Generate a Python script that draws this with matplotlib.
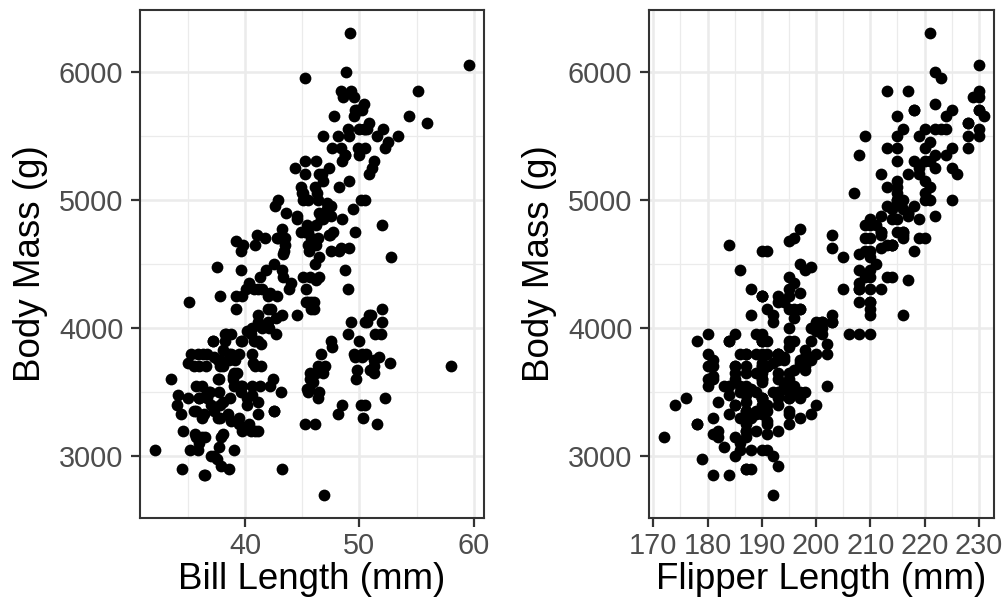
import matplotlib.pyplot as plt
from matplotlib.ticker import MultipleLocator

adelie_bill = [39.1, 39.5, 40.3, 36.7, 39.3, 38.9, 39.2, 34.1, 42.0, 37.8, 37.8, 41.1, 38.6, 36.6, 38.7, 42.5, 34.4, 46.0,
               37.8, 37.7, 35.9, 38.2, 38.8, 35.3, 40.6, 40.5, 37.9, 40.5, 39.5, 37.2, 39.5, 40.9, 36.4, 39.2, 38.8, 42.2,
               37.6, 39.8, 36.5, 40.8, 36.0, 37.0, 39.6, 41.1, 37.5, 36.0, 42.3, 39.6, 40.1, 35.0, 42.0, 34.5, 41.4,
               39.0, 40.6, 36.5, 37.6, 35.7, 41.3, 37.6, 41.1, 36.4, 35.5, 41.1, 35.9, 41.8, 33.5, 39.7, 39.6, 45.8,
               35.5, 42.8, 40.9, 37.2, 36.2, 42.1, 34.6, 42.9, 36.7, 35.1, 37.3, 41.3, 36.3, 36.9, 38.3, 38.9, 35.7, 41.1,
               34.0, 39.6, 36.2, 40.8, 38.1, 40.3, 43.2, 35.0, 41.0, 37.7, 37.8, 37.9, 39.7, 38.6, 38.2, 38.1, 43.2,
               38.1, 45.6, 39.7, 42.2, 39.6, 42.7, 38.6, 37.3, 35.7, 41.1, 36.2, 37.7, 40.2, 41.4, 35.2, 40.6, 38.8, 41.5,
               39.0, 38.5, 43.1, 36.8, 37.5, 38.1, 41.1, 35.6, 40.2, 37.0, 39.7, 40.2, 40.6, 32.1, 40.7, 37.3, 39.0,
               39.2, 36.6, 36.0, 37.8, 36.0, 41.5]
adelie_flipper = [181, 186, 195, 193, 190, 181, 195, 193, 190, 186, 180, 182, 191, 185, 195, 197, 184, 194,
                  174, 180, 189, 185, 180, 187, 183, 187, 172, 180, 178, 178, 188, 184, 195, 196, 190, 180,
                  181, 184, 182, 195, 186, 185, 190, 182, 179, 190, 191, 186, 188, 190, 200, 187, 191,
                  186, 193, 181, 194, 185, 195, 185, 192, 184, 195, 188, 190, 198, 190, 190, 196, 197,
                  190, 195, 191, 184, 187, 195, 189, 196, 187, 193, 191, 194, 190, 189, 189, 190, 202, 205,
                  185, 186, 187, 208, 190, 196, 192, 192, 203, 183, 190, 193, 184, 199, 190, 181, 197,
                  198, 191, 193, 197, 191, 196, 188, 199, 189, 189, 187, 198, 176, 202, 186, 199, 191, 195,
                  191, 190, 197, 193, 199, 187, 190, 191, 200, 185, 193, 193, 187, 188, 190, 192, 185,
                  190, 184, 195, 193, 187, 201]
adelie_mass = [3750, 3800, 3250, 3450, 3650, 3625, 4675, 3475, 4250, 3300, 3700, 3200, 3800, 3700, 3450, 4500, 3325, 4200,
               3400, 3600, 3800, 3950, 3800, 3800, 3550, 3200, 3150, 3950, 3250, 3900, 3300, 3900, 3325, 4150, 3950, 3550,
               3300, 4650, 3150, 3900, 3100, 3000, 4600, 3425, 2975, 3450, 4150, 3500, 4300, 3450, 4050, 2900, 3700,
               3550, 3800, 2850, 3750, 3150, 4400, 3600, 4050, 2850, 3350, 4100, 3050, 4450, 3600, 3900, 3550, 4150,
               3700, 4250, 3700, 3900, 3550, 4000, 3200, 4700, 3800, 4200, 3350, 3550, 3800, 3500, 3950, 3600, 3550, 4300,
               3400, 4450, 3300, 4300, 3700, 4350, 4100, 3725, 4725, 3075, 4250, 2925, 3550, 3750, 3900, 3175, 4775,
               3825, 4600, 3200, 4275, 3900, 4075, 2900, 3775, 3350, 3325, 3150, 3500, 3450, 3875, 3050, 4000, 3275, 4300,
               3050, 3325, 3500, 3500, 4475, 3425, 3900, 3175, 3975, 3400, 4250, 3400, 3475, 3050, 3725, 3000, 3650,
               4250, 3475, 3450, 3750, 3700, 4000]

gentoo_bill = [46.1, 50.0, 48.7, 50.0, 47.6, 46.5, 45.4, 46.7, 43.3, 46.8, 40.9, 49.0, 45.5, 48.4, 45.8, 49.3, 42.0, 49.2,
               46.2, 48.7, 50.2, 45.1, 46.5, 46.3, 42.9, 46.1, 44.5, 47.8, 48.2, 50.0, 47.3, 42.8, 45.1, 59.6,
               49.1, 48.4, 42.6, 44.4, 44.0, 48.7, 42.7, 49.6, 45.3, 49.6, 50.5, 43.6, 45.5, 50.5, 44.9, 45.2, 46.6, 48.5,
               45.1, 50.1, 46.5, 45.0, 43.8, 45.5, 43.2, 50.4, 45.3, 46.2, 45.7, 54.3, 45.8, 49.8, 46.2, 49.5, 43.5, 50.7,
               47.7, 46.4, 48.2, 46.5, 46.4, 48.6, 47.5, 45.2, 45.2,
               49.1, 52.5, 47.4, 50.0, 44.9, 50.8, 43.4, 51.3, 47.5, 52.1, 47.5, 52.2, 45.5, 49.5, 44.5, 50.8, 49.4, 46.9,
               48.4, 51.1, 48.5, 55.9, 47.2, 49.1, 47.3, 46.8, 41.7, 53.4, 43.3, 48.1, 50.5, 43.5, 51.5, 46.2, 55.1,
               44.5, 48.8, 47.2, 46.8, 50.4, 45.2, 49.9]
gentoo_flipper = [211, 230, 210, 218, 215, 210, 211, 219, 209, 215, 214, 216, 214, 213, 210, 217, 210, 221,
                  209, 222, 218, 215, 213, 215, 215, 215, 216, 215, 210, 220, 222, 209, 207, 230,
                  220, 220, 213, 219, 208, 208, 208, 225, 210, 216, 222, 217, 210, 225, 213, 215, 210, 220,
                  210, 225, 217, 220, 208, 220, 208, 224, 208, 221, 214, 231, 219, 230, 214, 229, 220, 223,
                  216, 221, 221, 217, 216, 230, 209, 215, 223,
                  212, 221, 212, 224, 212, 228, 218, 218, 212, 230, 218, 228, 212, 224, 214, 226, 216, 222,
                  203, 225, 219, 228, 215, 228, 216, 215, 210, 219, 208, 209, 216, 213, 230, 217, 230,
                  217, 222, 214, 215, 222, 212, 213]
gentoo_mass = [4500, 5700, 4450, 5700, 5400, 4550, 4800, 5200, 4400, 5150, 4650, 5550, 4650, 5850, 4200, 5850, 4150, 6300,
               4800, 5350, 5700, 5000, 4400, 5050, 5000, 5100, 4100, 5650, 4600, 5550, 5250, 4700, 5050, 6050,
               5150, 5400, 4950, 5250, 4350, 5350, 3950, 5700, 4300, 4750, 5550, 4900, 4200, 5400, 5100, 5300, 4850, 5300,
               4400, 5000, 4900, 5050, 4300, 5000, 4450, 5550, 4200, 5300, 4400, 5650, 4700, 5700, 4650, 5800, 4700, 5550,
               4750, 5000, 5100, 5200, 4700, 5800, 4600, 4750, 5950,
               4625, 5450, 4725, 5350, 4750, 5600, 4600, 5300, 4875, 5550, 4950, 5400, 4750, 5650, 4850, 5200, 4925, 4875,
               4625, 5250, 4850, 5600, 4975, 5500, 4725, 5500, 4700, 5500, 4575, 5500, 5000, 4650, 5500, 4375, 5850,
               4875, 6000, 4925, 4850, 5750, 5200, 5400]

chinstrap_bill = [46.5, 50.0, 51.3, 45.4, 52.7, 46.1, 51.3, 46.0, 51.3, 46.6, 51.7, 47.0, 52.0, 45.9, 50.5, 50.3,
                  58.0, 46.4, 42.4, 48.5, 43.2, 50.6, 52.0,
                  50.5, 49.5, 46.4, 52.8, 40.9, 42.5, 51.0, 49.7, 47.5, 47.6, 52.0, 46.9, 49.0, 46.2, 45.5,
                  50.9, 50.1, 49.0, 51.5, 49.8, 48.1, 51.4, 45.7, 50.7, 42.5, 52.2, 45.2, 49.3, 50.2, 45.6, 51.9, 46.8,
                  45.7, 49.6, 50.8, 50.2]
chinstrap_flipper = [192, 196, 193, 188, 197, 178, 197, 195, 198, 193, 194, 185, 201, 190, 201, 197,
                     181, 190, 181, 191, 187, 193, 197,
                     200, 200, 191, 205, 187, 187, 203, 195, 199, 195, 210, 192, 210, 187, 196,
                     196, 190, 212, 187, 198, 199, 201, 193, 203, 187, 197, 191, 203, 202, 194, 206, 189,
                     195, 193, 210, 198]
chinstrap_mass = [3500, 3900, 3650, 3525, 3725, 3250, 3750, 4150, 3700, 3800, 3775, 3700, 4050, 3575, 4050, 3300,
                  3700, 3450, 3600, 3400, 2900, 3800, 4150,
                  3400, 3800, 3700, 4550, 3200, 3350, 4100, 3600, 3900, 3850, 4800, 2700, 3950, 3650, 3500,
                  3675, 3400, 4300, 3250, 3675, 3325, 3950, 3600, 4050, 3350, 3450, 3250, 4050, 3800, 3525, 3950, 3650,
                  3650, 3775, 4100, 3775]

bill_length = adelie_bill + gentoo_bill + chinstrap_bill
flipper_length = adelie_flipper + gentoo_flipper + chinstrap_flipper
body_mass = adelie_mass + gentoo_mass + chinstrap_mass

plt.rcParams['font.family'] = ['Liberation Sans', 'DejaVu Sans']

fig = plt.figure(figsize=(10.05, 6.09), dpi=100)
ax1 = fig.add_axes([140/1005, 91.3/609, 344/1005, 507.7/609])
ax2 = fig.add_axes([649/1005, 91.3/609, 345/1005, 507.7/609])

panels = [
    (ax1, bill_length, 'Bill Length (mm)', (30.8, 60.9), 10),
    (ax2, flipper_length, 'Flipper Length (mm)', (169.2, 232.8), 10),
]

for ax, x, xlab, xlim, step in panels:
    ax.scatter(x, body_mass, s=72, c='black', linewidths=0, zorder=3)
    ax.set_xlim(*xlim)
    ax.set_ylim(2520, 6480)
    ax.xaxis.set_major_locator(MultipleLocator(step))
    ax.xaxis.set_minor_locator(MultipleLocator(step / 2))
    ax.yaxis.set_major_locator(MultipleLocator(1000))
    ax.yaxis.set_minor_locator(MultipleLocator(500))
    ax.grid(which='major', color='#EBEBEB', lw=1.8)
    ax.grid(which='minor', color='#EBEBEB', lw=0.9)
    ax.set_axisbelow(True)
    for sp in ax.spines.values():
        sp.set_color('#333333')
        sp.set_linewidth(1.5)
    ax.tick_params(which='major', length=6.5, width=1.6, color='#333333',
                   labelsize=20.8, labelcolor='#4D4D4D')
    ax.tick_params(axis='x', pad=3.5)
    ax.tick_params(axis='y', pad=5.5)
    ax.tick_params(which='minor', length=0)
    ax.set_xlabel(xlab, fontsize=26.5, labelpad=2)
    ax.set_ylabel('Body Mass (g)', fontsize=26.5)
    ax.yaxis.set_label_coords(-0.267, 0.5)

fig.savefig('out.png', dpi=100)
